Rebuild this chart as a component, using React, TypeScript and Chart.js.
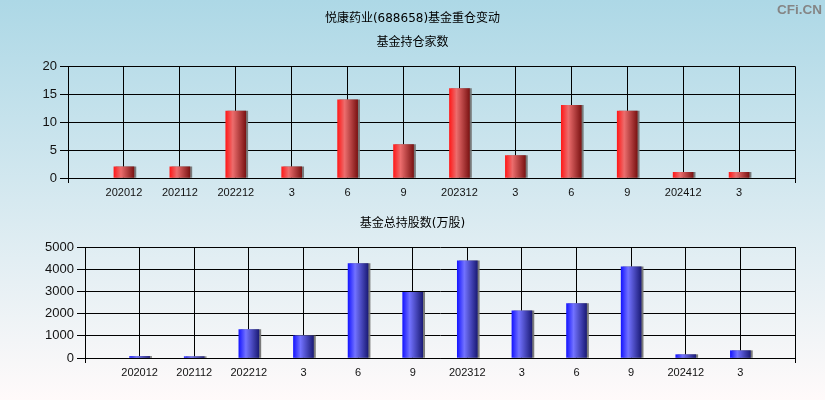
import React, { useEffect, useRef } from "react";
import { Chart, registerables } from "chart.js";

Chart.register(...registerables);

// ---- data ----
const categories = ["202012", "202112", "202212", "3", "6", "9", "202312", "3", "6", "9", "202412", "3"];
const fundCounts = [2, 2, 12, 2, 14, 6, 16, 4, 13, 12, 1, 1];
const fundShares = [70, 60, 1280, 1000, 4250, 2960, 4380, 2130, 2450, 4110, 150, 330];

const mainTitle = "悦康药业(688658)基金重仓变动";
const countTitle = "基金持仓家数";
const sharesTitle = "基金总持股数(万股)";
const watermark = "CFi.CN";

const countAxis = { min: 0, max: 20, step: 5 };
const sharesAxis = { min: 0, max: 5000, step: 1000 };

// ---- styles ----
const TITLE_FONT = "'DejaVu Sans', 'Noto Sans CJK SC', sans-serif";
const TICK_FONT = "'Liberation Sans', Arial, 'Noto Sans CJK SC', sans-serif";
const BAR = 20;

const redStops: [number, string][] = [
  [0, "#ff1a1a"],
  [0.35, "#ec6d6d"],
  [1, "#7c1414"],
];
const blueStops: [number, string][] = [
  [0, "#1717ff"],
  [0.35, "#7272ff"],
  [1, "#1c1c78"],
];

function barFill(stops: [number, string][]) {
  return (c: any) => {
    const chart = c.chart;
    const xs = chart.scales && chart.scales.x;
    if (c.type !== "data" || !xs || !xs.width) return stops[1][1];
    const cx = xs.getPixelForValue(c.dataIndex);
    const g = chart.ctx.createLinearGradient(cx - BAR / 2, 0, cx + BAR / 2, 0);
    stops.forEach(([o, col]) => g.addColorStop(o, col));
    return g;
  };
}

const shadowPlugin = {
  id: "barShadow",
  beforeDatasetDraw(chart: any) {
    const ctx = chart.ctx;
    ctx.save();
    ctx.shadowColor = "rgba(115,115,115,0.95)";
    ctx.shadowOffsetX = 2;
    ctx.shadowOffsetY = 0;
    ctx.shadowBlur = 0;
  },
  afterDatasetDraw(chart: any) {
    chart.ctx.restore();
  },
};

type PanelProps = {
  values: number[];
  axis: { min: number; max: number; step: number };
  stops: [number, string][];
  titles: { text: string; top: number; bottom: number }[];
  yWidth: number;
  xHeight: number;
};

function Panel({ values, axis, stops, titles, yWidth, xHeight }: PanelProps) {
  const ref = useRef<HTMLCanvasElement | null>(null);
  useEffect(() => {
    if (!ref.current) return;
    const labels = ["", ...categories, ""];
    const data = [null, ...values, null];
    const last = labels.length - 1;
    const titleCfg = (t: { text: string; top: number; bottom: number } | undefined) =>
      t
        ? {
            display: true,
            text: t.text,
            color: "#000",
            font: { family: TITLE_FONT, size: 12, weight: "normal" as const, lineHeight: 1.2 },
            padding: { top: t.top, bottom: t.bottom },
          }
        : { display: false };
    const chart = new Chart(ref.current, {
      type: "bar",
      data: {
        labels,
        datasets: [
          {
            data: data as any,
            backgroundColor: barFill(stops) as any,
            borderWidth: 0,
            barThickness: BAR,
            yAxisID: "y",
          },
        ],
      },
      plugins: [shadowPlugin],
      options: {
        animation: false,
        responsive: false,
        events: [],
        layout: { padding: 0 },
        plugins: {
          legend: { display: false },
          tooltip: { enabled: false },
          title: titleCfg(titles[0]) as any,
          subtitle: titleCfg(titles[1]) as any,
        },
        scales: {
          x: {
            type: "category",
            offset: false,
            grid: {
              offset: false,
              color: "#000",
              lineWidth: 1,
              drawTicks: true,
              tickLength: 5,
              tickColor: (c: any) => (c.index === 0 || c.index === last ? "#000" : "rgba(0,0,0,0)"),
            },
            border: { display: true, color: "#000", width: 1 },
            ticks: {
              autoSkip: false,
              maxRotation: 0,
              padding: 3,
              color: "#111",
              font: { family: TICK_FONT, size: 11 },
            },
            afterFit: (s: any) => {
              s.height = xHeight;
            },
          },
          y: {
            min: axis.min,
            max: axis.max,
            grid: { color: "#000", lineWidth: 1, tickLength: 8, tickColor: "#000" },
            border: { display: true, color: "#000", width: 1 },
            ticks: {
              stepSize: axis.step,
              padding: 3,
              color: "#111",
              font: { family: TICK_FONT, size: 13 },
              callback: (v: any) => String(v),
            },
            afterFit: (s: any) => {
              s.width = yWidth;
            },
          },
          spacer: {
            type: "linear",
            position: "right",
            min: 0,
            max: 1,
            grid: { display: false, drawTicks: false },
            border: { display: false },
            ticks: { display: false },
            afterFit: (s: any) => {
              s.width = 30;
            },
          },
        },
      },
    });
    return () => chart.destroy();
  }, []);
  return <canvas ref={ref} width={825} height={200} style={{ display: "block" }} />;
}

export default function App() {
  return (
    <div
      style={{
        position: "absolute",
        left: 0,
        top: 0,
        width: 825,
        height: 400,
        overflow: "hidden",
        background: "linear-gradient(to bottom, #add8e6 0%, #fffafa 100%)",
      }}
    >
      <Panel
        values={fundCounts}
        axis={countAxis}
        stops={redStops}
        titles={[
          { text: mainTitle, top: 11.3, bottom: 9.6 },
          { text: countTitle, top: 0, bottom: 16.6 },
        ]}
        yWidth={68}
        xHeight={22}
      />
      <Panel
        values={fundShares}
        axis={sharesAxis}
        stops={blueStops}
        titles={[{ text: sharesTitle, top: 16.8, bottom: 15.8 }]}
        yWidth={85}
        xHeight={42}
      />
      <div
        style={{
          position: "absolute",
          right: 3,
          top: 1,
          font: "bold 13.5px 'Liberation Sans', Arial, sans-serif",
          color: "#858585",
          lineHeight: "17px",
        }}
      >
        {watermark}
      </div>
    </div>
  );
}
